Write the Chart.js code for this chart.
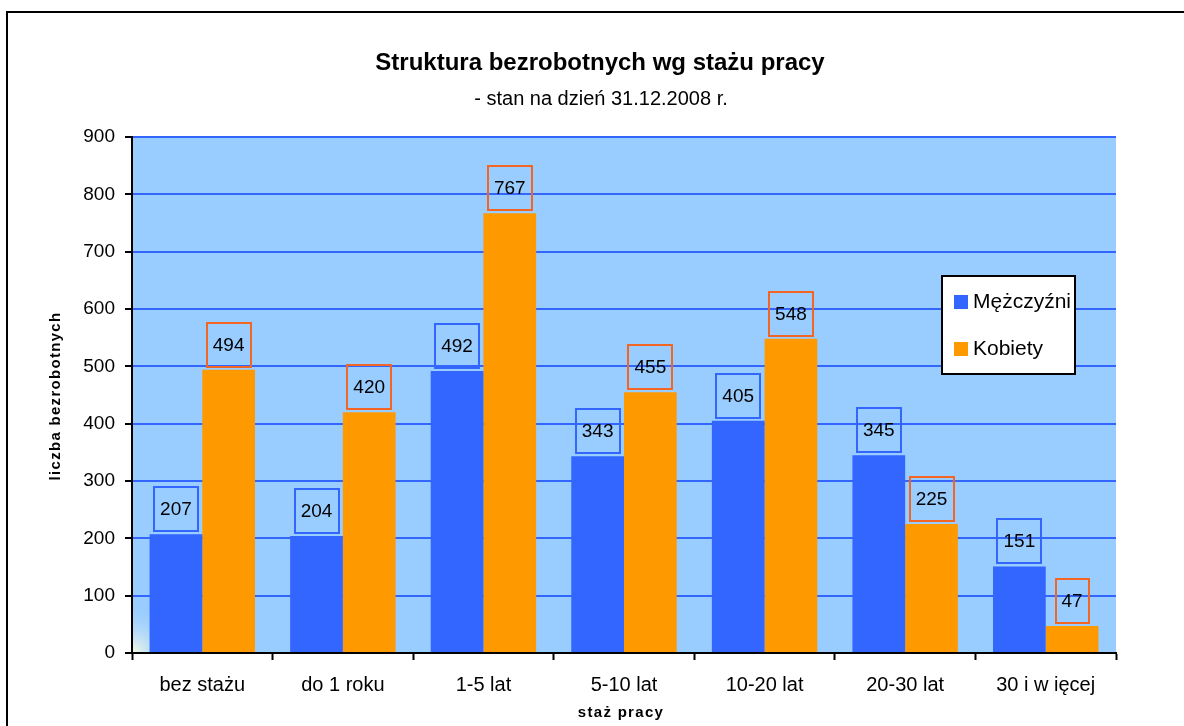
<!DOCTYPE html>
<html>
<head>
<meta charset="utf-8">
<script src="https://cdn.jsdelivr.net/npm/chart.js@4.4.0/dist/chart.umd.min.js"></script>
<style>
    html, body { margin: 0; padding: 0; background: #fff; overflow: hidden; }
    canvas { display: block; }
</style>
</head>
<body>
<canvas id="barChart" width="1184" height="726"></canvas>
<script>
const categories = ['bez stażu', 'do 1 roku', '1-5 lat', '5-10 lat', '10-20 lat', '20-30 lat', '30 i w ięcej'];
const men = [207, 204, 492, 343, 405, 345, 151];
const women = [494, 420, 767, 455, 548, 225, 47];
const seriesNames = ['Mężczyźni', 'Kobiety'];
const yMin = 0;
const yMax = 900;
const yStep = 100;

const chartTitle = 'Struktura bezrobotnych wg stażu pracy';
const chartSubtitle = '- stan na dzień 31.12.2008 r.';
const xTitle = 'staż pracy';
const yTitle = 'liczba bezrobotnych';

const FONT = '"Liberation Sans", Arial, sans-serif';
const barColors = ['#3366FF', '#FF9900'];
const labelBorders = ['#3366FF', '#F26522'];

Chart.defaults.font.family = FONT;

// tło, ramka, tytuły, etykiety danych i legenda rysowane ręcznie
const chartDecor = {
    id: 'chartDecor',
    beforeDraw(chart) {
        const ctx = chart.ctx;
        const a = chart.chartArea;
        ctx.save();
        ctx.fillStyle = '#fff';
        ctx.fillRect(0, 0, chart.width, chart.height);

        ctx.fillStyle = '#99CCFF';
        ctx.fillRect(a.left, a.top, a.right - a.left, a.bottom - a.top);
        const g = ctx.createRadialGradient(a.left, a.bottom, 0, a.left, a.bottom, 50);
        g.addColorStop(0, 'rgba(248,252,228,1)');
        g.addColorStop(1, 'rgba(153,204,255,0)');
        ctx.fillStyle = g;
        ctx.fillRect(a.left, a.bottom - 50, 50, 50);

        ctx.strokeStyle = '#000';
        ctx.lineWidth = 2;
        ctx.strokeRect(7, 12, 1220, 800);
        ctx.restore();
    },
    afterDraw(chart) {
        const ctx = chart.ctx;
        ctx.save();
        ctx.fillStyle = '#000';
        ctx.textAlign = 'center';
        ctx.textBaseline = 'middle';

        ctx.font = 'bold 24px ' + FONT;
        ctx.fillText(chartTitle, 600, 63);
        ctx.font = '20px ' + FONT;
        ctx.fillText(chartSubtitle, 601, 99);

        ctx.letterSpacing = '1.3px';
        ctx.font = 'bold 15px ' + FONT;
        ctx.fillText(xTitle, 621, 713);
        ctx.save();
        ctx.translate(56, 396);
        ctx.rotate(-Math.PI / 2);
        ctx.fillText(yTitle, 0, 0);
        ctx.restore();
        ctx.letterSpacing = '0px';

        // etykiety wartości w ramkach
        ctx.font = '19px ' + FONT;
        ctx.lineWidth = 2;
        chart.data.datasets.forEach((ds, i) => {
            chart.getDatasetMeta(i).data.forEach((bar, j) => {
                const txt = String(ds.data[j]);
                const w = Math.round(ctx.measureText(txt).width + 12);
                const h = 44;
                const bottom = Math.round(bar.y - 3);
                ctx.strokeStyle = labelBorders[i];
                ctx.strokeRect(Math.round(bar.x - w / 2), bottom - h, w, h);
                ctx.fillText(txt, bar.x, bottom - h / 2 + 1);
            });
        });

        // legenda
        ctx.fillStyle = '#fff';
        ctx.fillRect(942, 276, 133, 98);
        ctx.strokeStyle = '#000';
        ctx.lineWidth = 2;
        ctx.strokeRect(942, 276, 133, 98);
        ctx.font = '21px ' + FONT;
        ctx.textAlign = 'left';
        seriesNames.forEach((name, i) => {
            const y = 302 + i * 47;
            ctx.fillStyle = barColors[i];
            ctx.fillRect(954, y - 7, 14, 14);
            ctx.fillStyle = '#000';
            ctx.fillText(name, 973, y);
        });
        ctx.restore();
    }
};

const ctx = document.getElementById('barChart').getContext('2d');
new Chart(ctx, {
    type: 'bar',
    data: {
        labels: categories,
        datasets: [{
            label: seriesNames[0],
            data: men,
            backgroundColor: barColors[0],
            categoryPercentage: 0.75,
            barPercentage: 1
        }, {
            label: seriesNames[1],
            data: women,
            backgroundColor: barColors[1],
            categoryPercentage: 0.75,
            barPercentage: 1
        }]
    },
    options: {
        responsive: false,
        animation: false,
        layout: {
            padding: { left: 32, right: 68, top: 137, bottom: 13 }
        },
        plugins: {
            legend: { display: false },
            title: { display: false },
            tooltip: { enabled: false }
        },
        scales: {
            x: {
                grid: {
                    drawOnChartArea: false,
                    drawTicks: true,
                    tickLength: 7,
                    tickColor: '#000',
                    tickWidth: 2,
                    offset: true
                },
                border: { color: '#000', width: 2 },
                ticks: {
                    color: '#000',
                    font: { size: 20 },
                    padding: 13,
                    maxRotation: 0,
                    autoSkip: false
                },
                afterFit(scale) { scale.height = 60; }
            },
            y: {
                min: yMin,
                max: yMax,
                ticks: {
                    stepSize: yStep,
                    color: '#000',
                    font: { size: 19 },
                    padding: 10
                },
                grid: {
                    color: '#3366FF',
                    lineWidth: 2,
                    tickColor: '#000',
                    tickLength: 7,
                    tickWidth: 2
                },
                border: { color: '#000', width: 2 },
                afterFit(scale) { scale.width = 100; }
            }
        }
    },
    plugins: [chartDecor]
});
</script>
</body>
</html>
